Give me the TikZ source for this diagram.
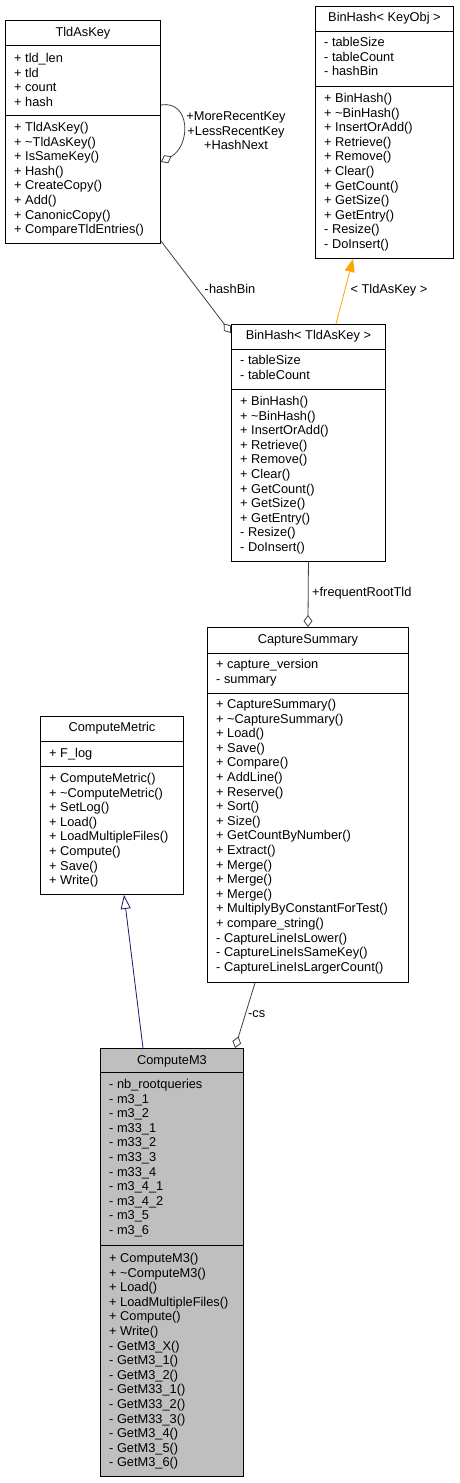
\documentclass[tikz,border=0pt]{standalone}
\usepackage{fontspec}
\setmainfont{Liberation Sans}
\usepackage{tikz}
\usetikzlibrary{calc}
\usetikzlibrary{arrows.meta}
\usepackage{color}
\definecolor{grey25}{RGB}{64, 64, 64}
\definecolor{midnightblue}{RGB}{25, 25, 112}
\definecolor{doxyorange}{RGB}{255, 165, 0}
\definecolor{classgrey}{RGB}{191, 191, 191}
\tikzset{
    classbox/.style={draw=black, fill=white, line width=0.9pt, anchor=north west, inner sep=0pt},
    classtitle/.style={inner sep=0pt, font=\fontsize{12.8}{14.6}\selectfont},
    members/.style={anchor=north west, inner sep=0pt, align=left, font=\fontsize{12.8}{14.6}\selectfont},
    edgelabel/.style={inner sep=0pt, font=\fontsize{12.8}{14.6}\selectfont},
    aggregation/.style={draw=grey25, line width=0.8pt, -{Diamond[open, length=12pt, width=9pt]}},
    inheritance/.style={draw=midnightblue, line width=0.8pt, -{Triangle[open, fill=white, length=14pt, width=10pt]}},
    instance/.style={draw=doxyorange, line width=0.8pt, -{Triangle[fill=doxyorange, length=13pt, width=10pt]}}
}

\begin{document}
\begin{tikzpicture}[x=1pt, y=-1pt]
            \fill[white] (0,0) rectangle (459,1483);
            \useasboundingbox (0,0) rectangle (459,1483);

            % TldAsKey
            \node[classbox, minimum width=155pt, minimum height=223pt] (tldaskey) at (5,20) {};
            \draw ($(tldaskey.north west)+(0,25)$) -- ($(tldaskey.north east)+(0,25)$);
            \draw ($(tldaskey.north west)+(0,95)$) -- ($(tldaskey.north east)+(0,95)$);
            \node[classtitle] at ($(tldaskey.north)+(0,13)$) {TldAsKey};
            \node[members] at ($(tldaskey.north west)+(9,33)$) {+ tld\_len\\+ tld\\+ count\\+ hash};
            \node[members] at ($(tldaskey.north west)+(9,102)$)
                 {+ TldAsKey()\\+ \textasciitilde TldAsKey()\\+ IsSameKey()\\+ Hash()\\+ CreateCopy()\\+ Add()\\+ CanonicCopy()\\+ CompareTldEntries()};

            % BinHash< KeyObj >
            \node[classbox, minimum width=138pt, minimum height=252pt] (binhashkeyobj) at (315,6) {};
            \draw ($(binhashkeyobj.north west)+(0,25)$) -- ($(binhashkeyobj.north east)+(0,25)$);
            \draw ($(binhashkeyobj.north west)+(0,80)$) -- ($(binhashkeyobj.north east)+(0,80)$);
            \node[classtitle] at ($(binhashkeyobj.north)+(0,12)$) {BinHash< KeyObj >};
            \node[members] at ($(binhashkeyobj.north west)+(9,31)$) {- tableSize\\- tableCount\\- hashBin};
            \node[members] at ($(binhashkeyobj.north west)+(9,87)$)
                 {+ BinHash()\\+ \textasciitilde BinHash()\\+ InsertOrAdd()\\+ Retrieve()\\+ Remove()\\+ Clear()\\+ GetCount()\\+ GetSize()\\+ GetEntry()\\- Resize()\\- DoInsert()};

            % BinHash< TldAsKey >
            \node[classbox, minimum width=154pt, minimum height=237pt] (binhashtld) at (231,324) {};
            \draw ($(binhashtld.north west)+(0,25)$) -- ($(binhashtld.north east)+(0,25)$);
            \draw ($(binhashtld.north west)+(0,65)$) -- ($(binhashtld.north east)+(0,65)$);
            \node[classtitle] at ($(binhashtld.north)+(0,12)$) {BinHash< TldAsKey >};
            \node[members] at ($(binhashtld.north west)+(9,31)$) {- tableSize\\- tableCount};
            \node[members] at ($(binhashtld.north west)+(9,72)$)
                 {+ BinHash()\\+ \textasciitilde BinHash()\\+ InsertOrAdd()\\+ Retrieve()\\+ Remove()\\+ Clear()\\+ GetCount()\\+ GetSize()\\+ GetEntry()\\- Resize()\\- DoInsert()};

            % CaptureSummary
            \node[classbox, minimum width=201pt, minimum height=355pt] (capturesummary) at (207,627) {};
            \draw ($(capturesummary.north west)+(0,26)$) -- ($(capturesummary.north east)+(0,26)$);
            \draw ($(capturesummary.north west)+(0,66)$) -- ($(capturesummary.north east)+(0,66)$);
            \node[classtitle] at ($(capturesummary.north)+(0,13)$) {CaptureSummary};
            \node[members] at ($(capturesummary.north west)+(9,32)$) {+ capture\_version\\- summary};
            \node[members] at ($(capturesummary.north west)+(9,72)$)
                 {+ CaptureSummary()\\+ \textasciitilde CaptureSummary()\\+ Load()\\+ Save()\\+ Compare()\\+ AddLine()\\+ Reserve()\\+ Sort()\\+ Size()\\+ GetCountByNumber()\\+ Extract()\\+ Merge()\\+ Merge()\\+ Merge()\\+ MultiplyByConstantForTest()\\+ compare\_string()\\- CaptureLineIsLower()\\- CaptureLineIsSameKey()\\- CaptureLineIsLargerCount()};

            % ComputeMetric
            \node[classbox, minimum width=143pt, minimum height=178pt] (computemetric) at (40,716) {};
            \draw ($(computemetric.north west)+(0,25)$) -- ($(computemetric.north east)+(0,25)$);
            \draw ($(computemetric.north west)+(0,50)$) -- ($(computemetric.north east)+(0,50)$);
            \node[classtitle] at ($(computemetric.north)+(0,12)$) {ComputeMetric};
            \node[members] at ($(computemetric.north west)+(9,32)$) {+ F\_log};
            \node[members] at ($(computemetric.north west)+(9,57)$)
                 {+ ComputeMetric()\\+ \textasciitilde ComputeMetric()\\+ SetLog()\\+ Load()\\+ LoadMultipleFiles()\\+ Compute()\\+ Save()\\+ Write()};

            % ComputeM3
            \node[classbox, fill=classgrey, minimum width=143pt, minimum height=428pt] (computem3) at (100,1048) {};
            \draw ($(computem3.north west)+(0,24)$) -- ($(computem3.north east)+(0,24)$);
            \draw ($(computem3.north west)+(0,197)$) -- ($(computem3.north east)+(0,197)$);
            \node[classtitle] at ($(computem3.north)+(0,13)$) {ComputeM3};
            \node[members] at ($(computem3.north west)+(9,31)$)
                 {- nb\_rootqueries\\- m3\_1\\- m3\_2\\- m33\_1\\- m33\_2\\- m33\_3\\- m33\_4\\- m3\_4\_1\\- m3\_4\_2\\- m3\_5\\- m3\_6};
            \node[members] at ($(computem3.north west)+(9,205)$)
                 {+ ComputeM3()\\+ \textasciitilde ComputeM3()\\+ Load()\\+ LoadMultipleFiles()\\+ Compute()\\+ Write()\\- GetM3\_X()\\- GetM3\_1()\\- GetM3\_2()\\- GetM33\_1()\\- GetM33\_2()\\- GetM33\_3()\\- GetM3\_4()\\- GetM3\_5()\\- GetM3\_6()};

            % relations
            \draw[aggregation] ($(tldaskey.north east)+(0,85)$)
                 .. controls ($(tldaskey.north east)+(30,80)$) and ($(tldaskey.north east)+(30,126)$) .. ($(tldaskey.north east)+(0,142)$);
            \node[edgelabel, align=center] (selflabel) at (236,131) {+MoreRecentKey\\+LessRecentKey\\+HashNext};

            \draw[aggregation] ($(tldaskey.south east)+(0,-3)$) -- ($(binhashtld.north west)+(0,9)$);
            \node[edgelabel] (hashbinlabel) at (230,289) {-hashBin};

            \draw[instance] ($(binhashtld.north west)+(105,0)$) -- ($(binhashkeyobj.south west)+(38,0)$);
            \node[edgelabel] (instancelabel) at (389,290) {< TldAsKey >};

            \draw[aggregation] (binhashtld.south) -- (capturesummary.north);
            \node[edgelabel, anchor=west] (frequentlabel) at (312,593) {+frequentRootTld};

            \draw[aggregation] ($(capturesummary.south west)+(48,0)$) -- ($(computem3.north west)+(135,0)$);
            \node[edgelabel, anchor=west] (cslabel) at (248,1014) {-cs};

            \draw[inheritance] ($(computem3.north west)+(43,0)$) -- ($(computemetric.south west)+(84,0)$);
\end{tikzpicture}
\end{document}
